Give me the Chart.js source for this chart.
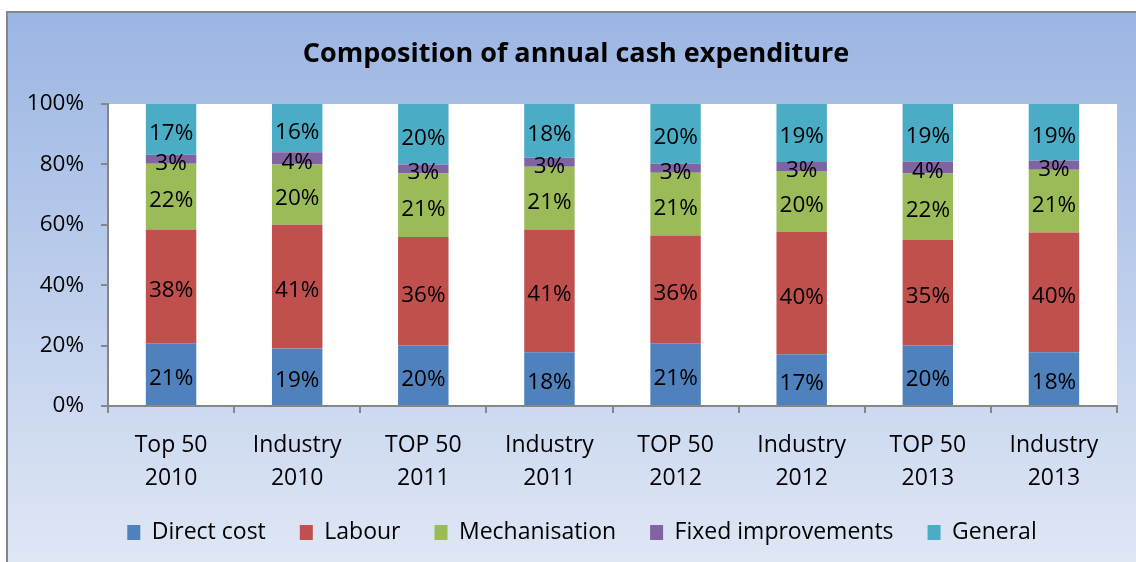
<!DOCTYPE html>
<html>
<head>
<meta charset="utf-8">
<title>Composition of annual cash expenditure</title>
<script src="https://cdn.jsdelivr.net/npm/chart.js@4/dist/chart.umd.min.js"></script>
<style>
  html, body { margin: 0; padding: 0; background: #ffffff; }
  #myChart { display: block; }
</style>
</head>
<body>
<canvas id="myChart" width="1136" height="562"></canvas>
<script>
// categories (two-line labels)
const categories = [
  ['Top 50', '2010'], ['Industry', '2010'], ['TOP 50', '2011'], ['Industry', '2011'],
  ['TOP 50', '2012'], ['Industry', '2012'], ['TOP 50', '2013'], ['Industry', '2013']
];

// shares in %
const directCost = [21, 19, 20, 18, 21, 17, 20, 18];
const labour = [38, 41, 36, 41, 36, 40, 35, 40];
const mechanisation = [22, 20, 21, 21, 21, 20, 22, 21];
const fixedImprovements = [3, 4, 3, 3, 3, 3, 4, 3];
const general = [17, 16, 20, 18, 20, 19, 19, 19];

const yTicks = [0, 20, 40, 60, 80, 100];

const seriesNames = ['Direct cost', 'Labour', 'Mechanisation', 'Fixed improvements', 'General'];
const seriesColors = ['#4f81bd', '#c0504d', '#9bbb59', '#8064a2', '#4bacc6'];
const seriesValues = [directCost, labour, mechanisation, fixedImprovements, general];

const FONT = "'Open Sans', 'DejaVu Sans', sans-serif";

// 100% stacked: every column is scaled so it sums to 100
function normalise(values, index) {
  const total = seriesValues.reduce((sum, s) => sum + s[index], 0);
  return values[index] * 100 / total;
}

function buildDatasets() {
  return seriesNames.map((name, i) => ({
    label: name,
    data: seriesValues[i].map((v, idx) => normalise(seriesValues[i], idx)),
    shownValues: seriesValues[i],
    backgroundColor: seriesColors[i],
    borderWidth: 0,
    categoryPercentage: 1.0,
    barPercentage: 0.4
  }));
}

// outer gradient box + white plot area
const backgroundPlugin = {
  id: 'background',
  beforeDraw(chart) {
    const {ctx, width, height, chartArea} = chart;
    ctx.save();
    ctx.fillStyle = '#ffffff';
    ctx.fillRect(0, 0, width, height);
    const grad = ctx.createLinearGradient(0, 11, 0, height);
    grad.addColorStop(0, '#9bb5e3');
    grad.addColorStop(1, '#dfe7f5');
    ctx.fillStyle = grad;
    ctx.fillRect(6, 11, width - 6, height - 11);
    ctx.strokeStyle = '#878787';
    ctx.lineWidth = 2;
    ctx.strokeRect(7, 12, width + 5, height + 5);
    ctx.fillStyle = '#ffffff';
    ctx.fillRect(chartArea.left, chartArea.top, chartArea.right - chartArea.left, chartArea.bottom - chartArea.top);
    ctx.restore();
  }
};

// title and legend sit a bit right of the canvas centre in the original
const shiftBlocks = {
  id: 'shiftBlocks',
  afterLayout(chart) {
    chart.titleBlock.left += 16;
    chart.titleBlock.right += 16;
    chart.legend.left += 22;
    chart.legend.right += 22;
  }
};

// percentage label in the middle of each segment
const segmentLabels = {
  id: 'segmentLabels',
  afterDatasetsDraw(chart) {
    const {ctx} = chart;
    ctx.save();
    ctx.font = '22.5px ' + FONT;
    ctx.fillStyle = '#000000';
    ctx.textAlign = 'center';
    ctx.textBaseline = 'middle';
    chart.data.datasets.forEach((ds, i) => {
      const meta = chart.getDatasetMeta(i);
      meta.data.forEach((bar, idx) => {
        const {x, y, base} = bar.getProps(['x', 'y', 'base'], true);
        ctx.fillText(ds.shownValues[idx] + '%', x, (y + base) / 2 + 4);
      });
    });
    ctx.restore();
  }
};

function initChart(target) {
  const config = {
    type: 'bar',
    data: {
      labels: categories,
      datasets: buildDatasets()
    },
    options: {
      responsive: false,
      animation: false,
      devicePixelRatio: 1,
      layout: { padding: { top: 11, left: 3, right: 19, bottom: 8 } },
      plugins: {
        title: {
          display: true,
          text: 'Composition of annual cash expenditure',
          color: '#000000',
          font: { family: FONT, size: 27, weight: 'bold', lineHeight: 1.2 },
          padding: { top: 27, bottom: 33.6 }
        },
        legend: {
          position: 'bottom',
          labels: {
            color: '#000000',
            font: { family: FONT, size: 23 },
            boxWidth: 13,
            boxHeight: 15,
            padding: 34
          }
        },
        tooltip: { enabled: false }
      },
      scales: {
        x: {
          stacked: true,
          afterFit: (scale) => { scale.height = 81; },
          grid: { display: true, drawOnChartArea: false, color: '#868686', lineWidth: 2, tickLength: 7, offset: true },
          border: { display: true, color: '#868686', width: 2 },
          ticks: {
            color: '#000000',
            font: { family: FONT, size: 23, lineHeight: '33px' },
            padding: 16,
            maxRotation: 0
          }
        },
        y: {
          stacked: true,
          min: yTicks[0],
          max: yTicks[yTicks.length - 1],
          afterFit: (scale) => { scale.width = 105; },
          afterBuildTicks: (scale) => { scale.ticks = yTicks.map((v) => ({value: v})); },
          grid: { display: true, drawOnChartArea: false, color: '#868686', lineWidth: 2, tickLength: 7 },
          border: { display: true, color: '#868686', width: 2 },
          ticks: {
            color: '#000000',
            font: { family: FONT, size: 22.5 },
            padding: 17,
            callback: (value) => value + '%'
          }
        }
      }
    },
    plugins: [backgroundPlugin, shiftBlocks, segmentLabels]
  };
  return new Chart(target, config);
}

document.addEventListener('DOMContentLoaded', () => {
  const chartTarget = document.querySelector('#myChart');
  initChart(chartTarget);
});
</script>
</body>
</html>
